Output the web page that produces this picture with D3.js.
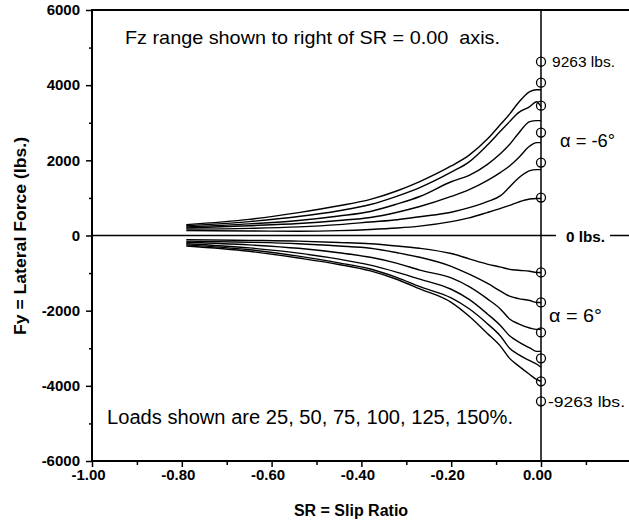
<!DOCTYPE html>
<html><head><meta charset="utf-8">
<script src="https://cdn.jsdelivr.net/npm/d3@7"></script>
<style>
body{margin:0;background:#fff}
svg text{font-family:"Liberation Sans",Arial,sans-serif;fill:#000;white-space:pre}
</style>
</head><body><svg id="c" width="629" height="523"></svg>
<script>
// ---- data ----
const slipRatio = [-0.79, -0.65, -0.54, -0.45, -0.38, -0.32, -0.27, -0.2, -0.16, -0.12, -0.09, -0.07, -0.05, -0.025, -0.01, 0];
// alpha = -6 deg, loads 25..150 %
const fyNeg6_25  = [130, 120, 115, 130, 160, 200, 250, 370, 470, 610, 720, 800, 890, 970, 983, 983];
const fyNeg6_50  = [170, 190, 230, 290, 360, 420, 500, 620, 740, 900, 1060, 1290, 1530, 1727, 1754, 1754];
const fyNeg6_75  = [200, 260, 320, 400, 480, 620, 771, 1040, 1220, 1460, 1680, 1850, 2070, 2380, 2470, 2472];
const fyNeg6_100 = [230, 310, 400, 520, 640, 840, 1037, 1430, 1600, 1887, 2180, 2420, 2720, 3030, 3057, 3057];
const fyNeg6_125 = [260, 370, 505, 660, 825, 1050, 1276, 1685, 1960, 2400, 2780, 3030, 3270, 3430, 3560, 3430];
const fyNeg6_150 = [290, 430, 610, 790, 960, 1190, 1435, 1850, 2140, 2560, 2960, 3230, 3540, 3830, 3880, 3880];
// alpha = +6 deg, loads 25..150 %
const fyPos6_25  = [-110, -130, -150, -185, -220, -280, -340, -480, -620, -760, -840, -900, -925, -950, -983, -983];
const fyPos6_50  = [-150, -180, -220, -280, -340, -460, -580, -820, -1030, -1270, -1480, -1615, -1680, -1730, -1781, -1781];
const fyPos6_75  = [-180, -250, -340, -460, -580, -740, -920, -1130, -1360, -1680, -1960, -2220, -2350, -2460, -2499, -2499];
const fyPos6_100 = [-220, -330, -470, -630, -790, -980, -1160, -1430, -1700, -2080, -2400, -2670, -2830, -2990, -3083, -3083];
const fyPos6_125 = [-250, -380, -550, -730, -890, -1120, -1360, -1660, -1950, -2340, -2680, -3000, -3170, -3330, -3420, -3508];
const fyPos6_150 = [-280, -420, -600, -770, -940, -1170, -1420, -1780, -2150, -2600, -2950, -3270, -3470, -3700, -3830, -3881];
// Fz markers on the SR = 0 axis
const fzMarkersTop = [1010, 1940, 2738, 3455, 4067, 4625];
const fzMarkersBottom = [-983, -1781, -2578, -3269, -3881, -4412];
// ticks
const xTicks = [-1.0, -0.8, -0.6, -0.4, -0.2, 0.0];
const xMinorTicks = [-0.9, -0.7, -0.5, -0.3, -0.1, 0.1];
const yTicks = [-6000, -4000, -2000, 0, 2000, 4000, 6000];
const yMinorTicks = [-5000, -3000, -1000, 1000, 3000, 5000];

// ---- drawing ----
const svg = d3.select("#c");
const x = d3.scaleLinear().domain([-1, 0.2]).range([92, 630.8]);
const y = d3.scaleLinear().domain([-6000, 6000]).range([461, 10]);

const series = [fyNeg6_25, fyNeg6_50, fyNeg6_75, fyNeg6_100, fyNeg6_125, fyNeg6_150,
                fyPos6_25, fyPos6_50, fyPos6_75, fyPos6_100, fyPos6_125, fyPos6_150];
const line = d3.line().x((d, i) => x(slipRatio[i])).y(d => y(d)).curve(d3.curveMonotoneX);

// zero line
svg.append("line").attr("x1", x(-1)).attr("x2", 629).attr("y1", y(0)).attr("y2", y(0))
  .attr("stroke", "#000").attr("stroke-width", 1.6);

svg.append("g").selectAll("path").data(series).join("path")
  .attr("d", line).attr("fill", "none").attr("stroke", "#000").attr("stroke-width", 1.4);

// SR = 0 axis
svg.append("line").attr("x1", x(0)).attr("x2", x(0)).attr("y1", y(6000)).attr("y2", y(-6000))
  .attr("stroke", "#000").attr("stroke-width", 1.5);

// axes
const gL = svg.append("g").attr("transform", `translate(${x(-1)},0)`)
  .call(d3.axisLeft(y).tickValues(yTicks).tickSize(6).tickPadding(6).tickFormat(d => String(d)));
const gLm = svg.append("g").attr("transform", `translate(${x(-1)},0)`)
  .call(d3.axisLeft(y).tickValues(yMinorTicks).tickSize(3).tickFormat(""));
const gB = svg.append("g").attr("transform", `translate(0,${y(-6000)})`)
  .call(d3.axisBottom(x).tickValues(xTicks).tickSize(6).tickFormat(d => d.toFixed(2)));
const gBm = svg.append("g").attr("transform", `translate(0,${y(-6000)})`)
  .call(d3.axisBottom(x).tickValues(xMinorTicks).tickSize(4).tickFormat(""));
[gL, gLm, gB, gBm].forEach(g => {
  g.select(".domain").remove();
  g.selectAll(".tick line").attr("stroke", "#000").attr("stroke-width", 1.5);
});
gL.selectAll("text").attr("font-size", 15).attr("font-weight", "bold").attr("font-family", "Liberation Sans, Arial, sans-serif");
gB.selectAll("text").attr("font-size", 15).attr("font-weight", "bold").attr("font-family", "Liberation Sans, Arial, sans-serif")
  .attr("y", 19).attr("dy", 0).attr("dx", -4);

// frame lines
svg.append("line").attr("x1", x(-1)).attr("x2", 629).attr("y1", y(-6000)).attr("y2", y(-6000)).attr("stroke", "#000").attr("stroke-width", 2);
svg.append("line").attr("x1", x(-1)).attr("x2", 629).attr("y1", y(6000)).attr("y2", y(6000)).attr("stroke", "#000").attr("stroke-width", 2);
svg.append("line").attr("x1", x(-1)).attr("x2", x(-1)).attr("y1", y(6000) - 1).attr("y2", y(-6000) + 1).attr("stroke", "#000").attr("stroke-width", 2);

// markers
svg.append("g").selectAll("circle").data(fzMarkersTop.concat(fzMarkersBottom)).join("circle")
  .attr("cx", x(0)).attr("cy", d => y(d)).attr("r", 4.5)
  .attr("fill", "none").attr("stroke", "#000").attr("stroke-width", 1.3);

// label with white background over zero line
svg.append("rect").attr("x", 556).attr("y", y(0) - 8).attr("width", 54).attr("height", 16).attr("fill", "#fff");

function label(t, xx, yy, size, weight, len) {
  const el = svg.append("text").attr("x", xx).attr("y", yy).attr("font-size", size)
    .attr("font-weight", weight || "normal").text(t);
  if (len) el.attr("textLength", len).attr("lengthAdjust", "spacingAndGlyphs");
  return el;
}
label("Fz range shown to right of SR = 0.00  axis.", 125, 44, 19, "normal", 375);
label("Loads shown are 25, 50, 75, 100, 125, 150%.", 107, 424, 20, "normal", 406);
label("9263 lbs.", 552, 67, 14, "normal", 63);
label("\u03b1 = -6\u00b0", 560, 147, 19, "normal", 55);
label("0 lbs.", 566, 242, 15, "bold", 39);
label("\u03b1 = 6\u00b0", 549, 322, 19, "normal", 53);
label("-9263 lbs.", 548, 407, 14, "normal", 77);

// axis titles
svg.append("text").attr("x", 351).attr("y", 516).attr("text-anchor", "middle")
  .attr("font-size", 16).attr("font-weight", "bold").text("SR = Slip Ratio");
svg.append("text").attr("transform", "translate(26,236) rotate(-90)").attr("text-anchor", "middle")
  .attr("font-size", 17).attr("font-weight", "bold")
  .attr("textLength", 198).attr("lengthAdjust", "spacingAndGlyphs").text("Fy = Lateral Force (lbs.)");
</script></body></html>
